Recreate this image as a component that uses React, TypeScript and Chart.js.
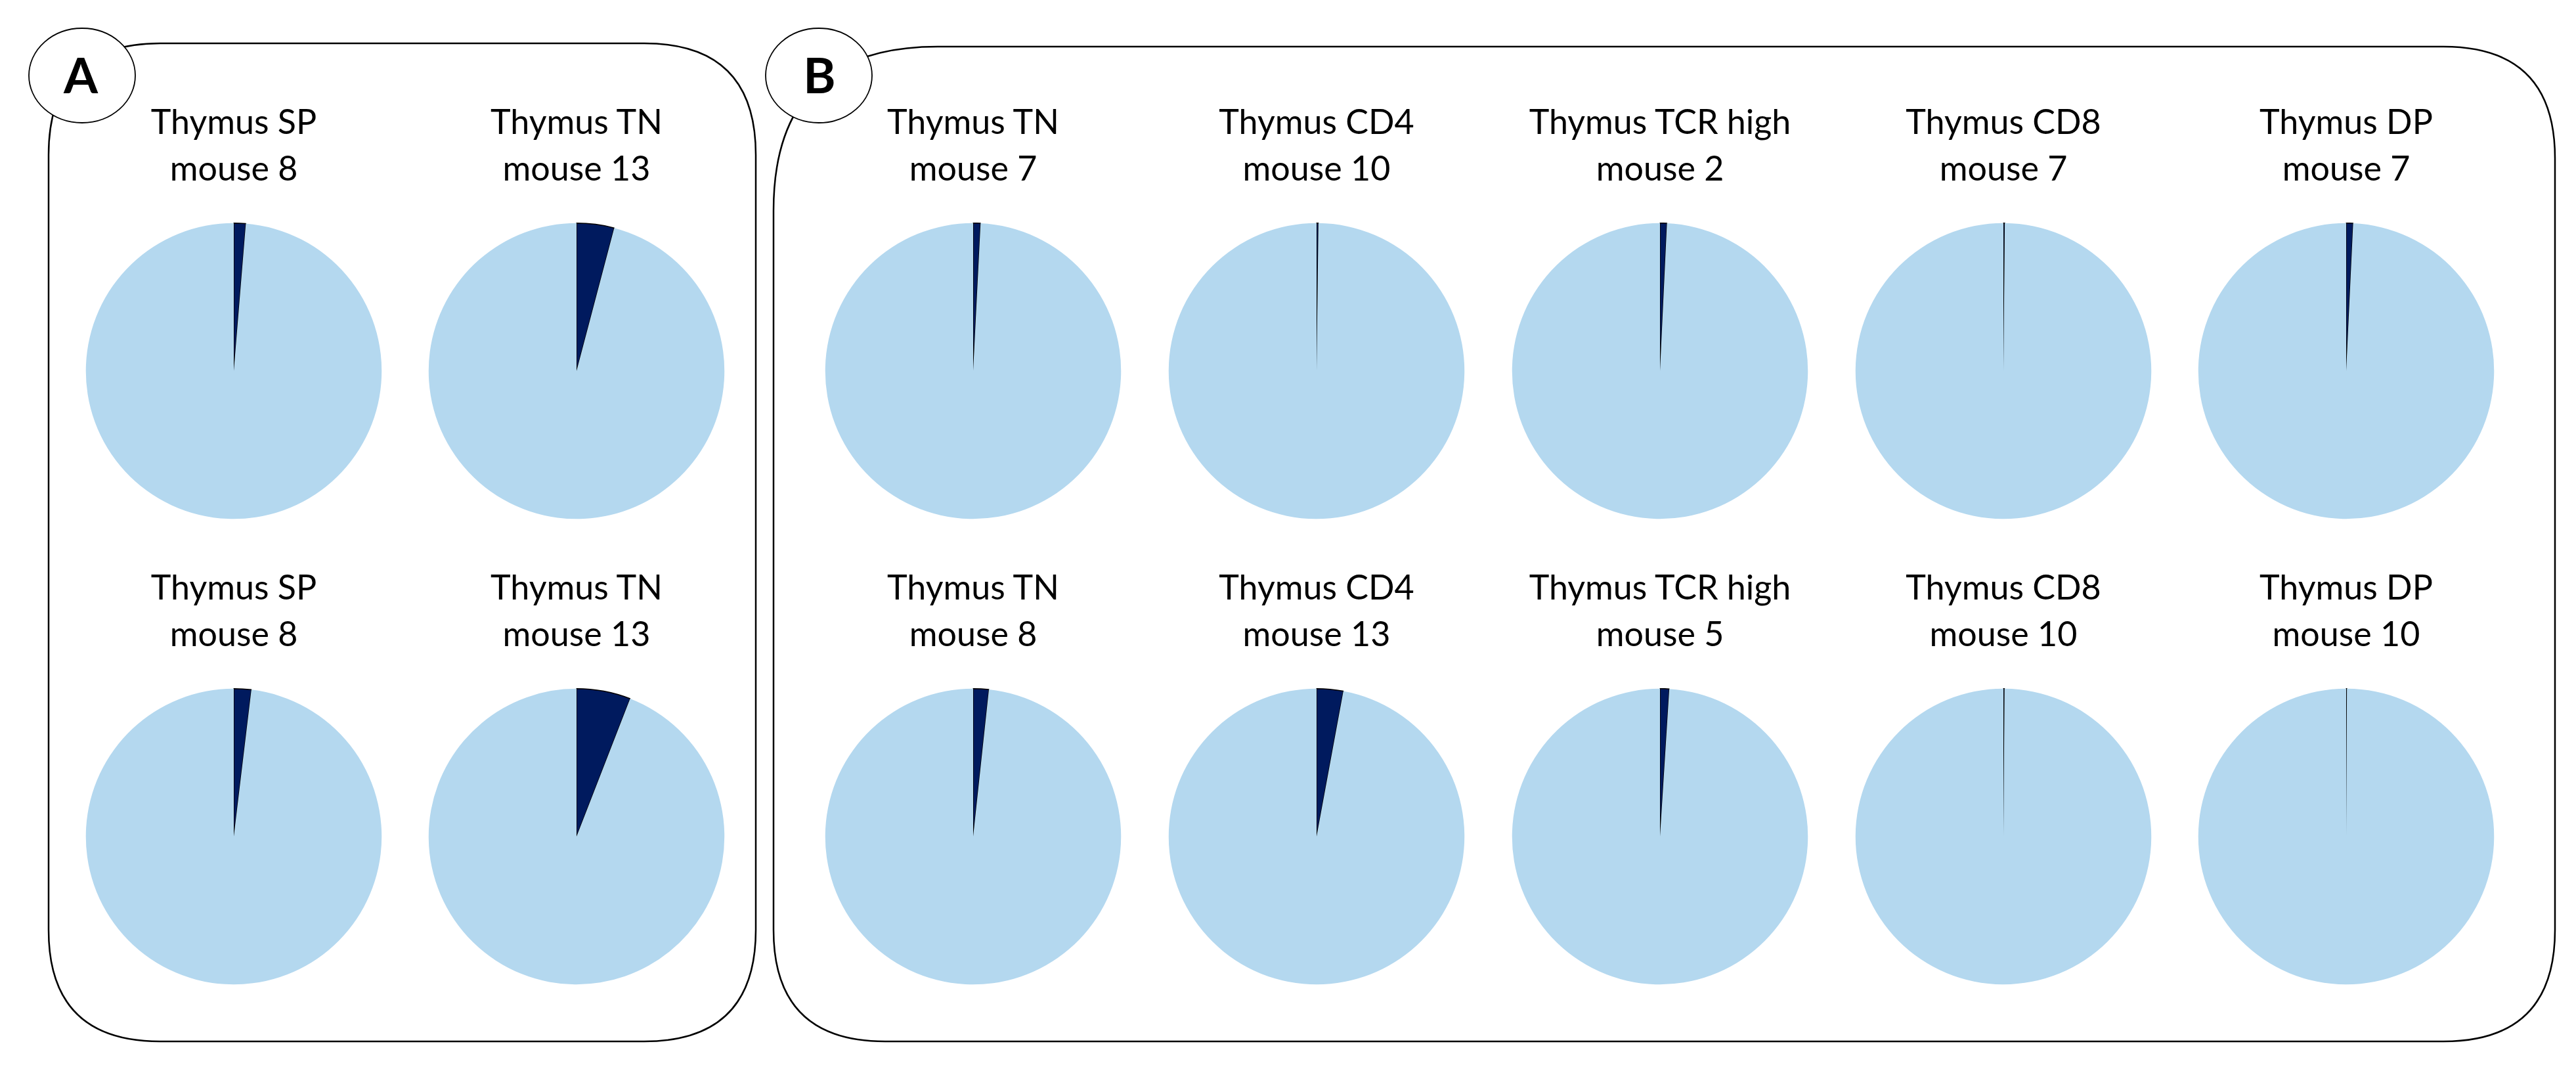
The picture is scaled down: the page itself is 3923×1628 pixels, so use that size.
import React, { useEffect, useRef } from "react";
import { Chart, registerables } from "chart.js";

Chart.register(...registerables);

// ---- Data ----
const panelALabels: string[][] = [
  ["Thymus SP", "mouse 8"],
  ["Thymus TN", "mouse 13"],
  ["Thymus SP", "mouse 8"],
  ["Thymus TN", "mouse 13"],
];
const panelAPercent: number[] = [1.3, 4.1, 1.9, 5.9];

const panelBLabels: string[][] = [
  ["Thymus TN", "mouse 7"],
  ["Thymus CD4", "mouse 10"],
  ["Thymus TCR high", "mouse 2"],
  ["Thymus CD8", "mouse 7"],
  ["Thymus DP", "mouse 7"],
  ["Thymus TN", "mouse 8"],
  ["Thymus CD4", "mouse 13"],
  ["Thymus TCR high", "mouse 5"],
  ["Thymus CD8", "mouse 10"],
  ["Thymus DP", "mouse 10"],
];
const panelBPercent: number[] = [0.8, 0.2, 0.75, 0.15, 0.75, 1.7, 2.9, 1.0, 0.12, 0.08];

const sliceNames: string[] = ["marked", "rest"];

// ---- Styling / layout ----
const DARK = "#001A5E";
const LIGHT = "#B4D8EF";
const FONT = "Lato, 'Open Sans', sans-serif";
const PIE_R = 225;
const ROW_CY = [565, 1274];
const A_CX = [356, 878];
const B_CX = [1482, 2005, 2528, 3051, 3573];
const TITLE_TOP = [149, 858];

function Pie({ cx, cy, pct }: { cx: number; cy: number; pct: number }) {
  const ref = useRef<HTMLCanvasElement | null>(null);
  useEffect(() => {
    if (!ref.current) return;
    const chart = new Chart(ref.current, {
      type: "pie",
      data: {
        labels: sliceNames,
        datasets: [
          {
            data: [pct, 100 - pct],
            backgroundColor: [DARK, LIGHT],
            borderColor: ["#000000", LIGHT],
            borderWidth: [1.5, 0],
          },
        ],
      },
      options: {
        responsive: false,
        animation: false,
        rotation: 0,
        layout: { padding: 0 },
        plugins: {
          legend: { display: false },
          tooltip: { enabled: false },
          title: { display: false },
        },
      },
    });
    return () => chart.destroy();
  }, [pct]);
  const size = PIE_R * 2 + 2;
  return (
    <canvas
      ref={ref}
      width={size}
      height={size}
      style={{
        position: "absolute",
        left: cx - size / 2,
        top: cy - size / 2,
        width: size,
        height: size,
      }}
    />
  );
}

function Title({ cx, top, lines }: { cx: number; top: number; lines: string[] }) {
  return (
    <div
      style={{
        position: "absolute",
        left: cx - 300,
        top,
        width: 600,
        textAlign: "center",
        fontFamily: FONT,
        fontSize: 52,
        lineHeight: "71px",
        color: "#000",
      }}
    >
      {lines.map((l, i) => (
        <div key={i}>{l}</div>
      ))}
    </div>
  );
}

function roundedPath(
  x1: number,
  y1: number,
  x2: number,
  y2: number,
  rtl: number,
  rtr: number,
  rbr: number,
  rbl: number
) {
  return [
    `M ${x1 + rtl} ${y1}`,
    `L ${x2 - rtr} ${y1}`,
    `Q ${x2} ${y1} ${x2} ${y1 + rtr}`,
    `L ${x2} ${y2 - rbr}`,
    `Q ${x2} ${y2} ${x2 - rbr} ${y2}`,
    `L ${x1 + rbl} ${y2}`,
    `Q ${x1} ${y2} ${x1} ${y2 - rbl}`,
    `L ${x1} ${y1 + rtl}`,
    `Q ${x1} ${y1} ${x1 + rtl} ${y1}`,
    "Z",
  ].join(" ");
}

export default function App() {
  const pies: React.ReactNode[] = [];
  const titles: React.ReactNode[] = [];
  panelAPercent.forEach((p, i) => {
    const row = Math.floor(i / 2);
    const col = i % 2;
    pies.push(<Pie key={"a" + i} cx={A_CX[col]} cy={ROW_CY[row]} pct={p} />);
    titles.push(<Title key={"ta" + i} cx={A_CX[col]} top={TITLE_TOP[row]} lines={panelALabels[i]} />);
  });
  panelBPercent.forEach((p, i) => {
    const row = Math.floor(i / 5);
    const col = i % 5;
    pies.push(<Pie key={"b" + i} cx={B_CX[col]} cy={ROW_CY[row]} pct={p} />);
    titles.push(<Title key={"tb" + i} cx={B_CX[col]} top={TITLE_TOP[row]} lines={panelBLabels[i]} />);
  });

  return (
    <div
      style={{
        position: "fixed",
        left: 0,
        top: 0,
        width: 3923,
        height: 1628,
        background: "#fff",
        overflow: "hidden",
      }}
    >
      <svg
        width={3923}
        height={1628}
        style={{ position: "absolute", left: 0, top: 0 }}
      >
        <path
          d={roundedPath(74, 66, 1151, 1586, 170, 170, 170, 170)}
          fill="none"
          stroke="#000"
          strokeWidth={2.5}
        />
        <path
          d={roundedPath(1178, 71, 3891, 1586, 250, 170, 170, 170)}
          fill="none"
          stroke="#000"
          strokeWidth={2.5}
        />
        <ellipse cx={125} cy={115} rx={81} ry={72} fill="#fff" stroke="#000" strokeWidth={1.8} />
        <ellipse cx={1247} cy={115} rx={81} ry={72} fill="#fff" stroke="#000" strokeWidth={1.8} />
        <text x={123} y={142} textAnchor="middle" fontFamily={FONT} fontWeight="bold" fontSize={75}>
          A
        </text>
        <text x={1248} y={142} textAnchor="middle" fontFamily={FONT} fontWeight="bold" fontSize={75}>
          B
        </text>
      </svg>
      {pies}
      {titles}
    </div>
  );
}
